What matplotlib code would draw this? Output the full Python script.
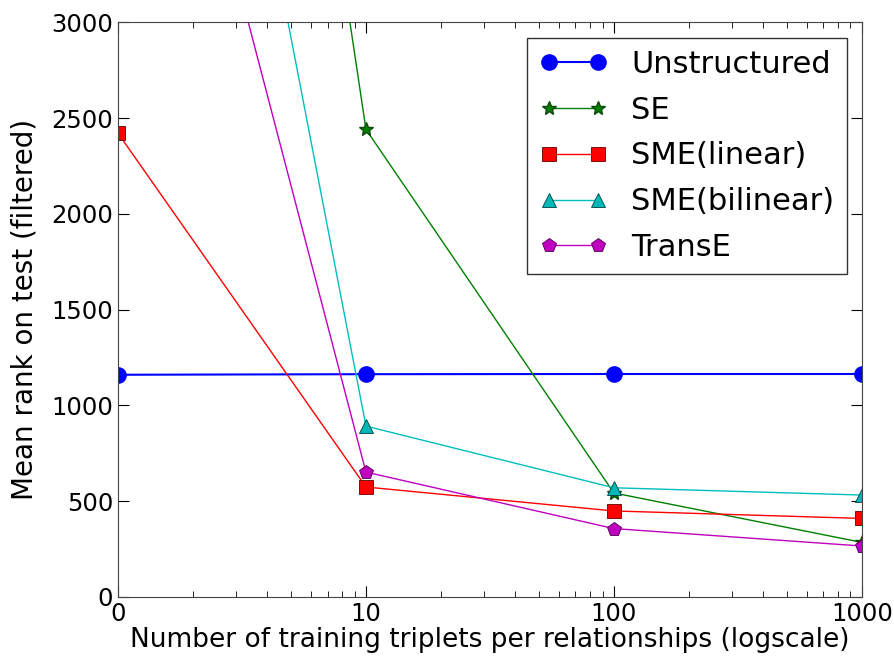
import matplotlib
matplotlib.use("Agg")
import matplotlib.pyplot as plt

# number of training triplets (0 is drawn at position 1 on the log axis)
x_values = [1, 10, 100, 1000]
x_tick_labels = ["0", "10", "100", "1000"]

unstructured = [1160, 1163, 1164, 1164]
se = [11100, 2441, 543, 285]
sme_linear = [2421, 574, 449, 410]
sme_bilinear = [7600, 892, 570, 532]
transe = [5600, 652, 357, 266]

fig = plt.figure(figsize=(8.94, 6.56), dpi=100)
ax = fig.add_axes([0.132, 0.09, 0.832, 0.876])

ax.plot(x_values, unstructured, 'b-', marker='o', markersize=11, mec='b', lw=1.5, label='Unstructured')
ax.plot(x_values, se, color='g', marker='*', markersize=10, mec='#0a4a0a', lw=1, label='SE')
ax.plot(x_values, sme_linear, 'r-', marker='s', markersize=10, mec='#600000', mew=0.6, lw=1, label='SME(linear)')
ax.plot(x_values, sme_bilinear, marker='^', markersize=10, mec='#004040', mew=0.6, lw=1,
        color=(0, 0.75, 0.75), mfc=(0, 0.72, 0.72), label='SME(bilinear)')
ax.plot(x_values, transe, marker='p', markersize=10, color=(0.75, 0, 0.75), mec='#500050', mew=0.6, lw=1,
        label='TransE')

ax.set_xscale('log')
ax.set_xlim(1, 1000)
ax.set_ylim(0, 3000)
ax.set_xticks(x_values)
ax.set_xticklabels(x_tick_labels)
ax.set_yticks(range(0, 3001, 500))

ax.tick_params(which='both', direction='in', top=True, right=True, labelsize=17.5)
ax.tick_params(which='major', length=8)
ax.tick_params(which='minor', length=4)
for side in ax.spines.values():
    side.set_color('#444444')

ax.set_xlabel('Number of training triplets per relationships (logscale)', fontsize=19, labelpad=1)
ax.set_ylabel('Mean rank on test (filtered)', fontsize=20, labelpad=9)

leg = ax.legend(loc='upper right', numpoints=2, fontsize=22, fancybox=False,
                framealpha=1, edgecolor='#333333', handlelength=2.2, borderaxespad=0.5,
                labelspacing=0.55)

fig.savefig('out.png', dpi=100)
